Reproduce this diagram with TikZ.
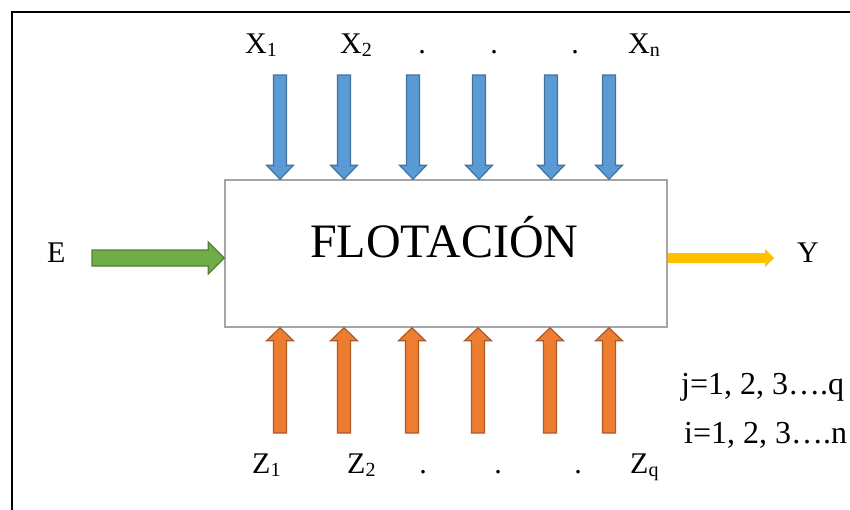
\documentclass[tikz,border=0pt]{standalone}
\usepackage{fontspec}
\setmainfont{Liberation Serif}
\usetikzlibrary{calc,positioning}
\definecolor{inBlue}{HTML}{5B9BD5}
\definecolor{inBlueDark}{HTML}{41719C}
\definecolor{inOrange}{HTML}{ED7D31}
\definecolor{inOrangeDark}{HTML}{AE5A21}
\definecolor{feedGreen}{HTML}{70AD47}
\definecolor{feedGreenDark}{HTML}{507E32}
\definecolor{outYellow}{HTML}{FFC000}
\definecolor{boxGray}{HTML}{A5A5A5}
\newcommand{\idx}[1]{\raisebox{-3pt}{\fontsize{20}{20}\selectfont #1}}

\begin{document}
\begin{tikzpicture}[x=1pt, y=-1pt,
  lab/.style={font=\fontsize{30}{36}\selectfont, inner sep=0pt},
  rangelab/.style={font=\fontsize{32}{38}\selectfont, inner sep=0pt},
  blockarrow/.style n args={3}{to path={
    ($(\tikztostart)!#1!90:(\tikztotarget)$)
    -- ($($(\tikztotarget)!#3!(\tikztostart)$)!#1!90:(\tikztotarget)$)
    -- ($($(\tikztotarget)!#3!(\tikztostart)$)!#2!90:(\tikztotarget)$)
    -- (\tikztotarget)
    -- ($($(\tikztotarget)!#3!(\tikztostart)$)!#2!-90:(\tikztotarget)$)
    -- ($($(\tikztotarget)!#3!(\tikztostart)$)!#1!-90:(\tikztotarget)$)
    -- ($(\tikztostart)!#1!-90:(\tikztotarget)$) -- cycle}},
  xarrow/.style={blockarrow={6.5pt}{13.5pt}{14pt}, fill=inBlue, draw=inBlueDark, line width=1.2pt},
  zarrow/.style={blockarrow={6.5pt}{13.5pt}{13pt}, fill=inOrange, draw=inOrangeDark, line width=1.2pt},
  earrow/.style={blockarrow={8pt}{16pt}{16pt}, fill=feedGreen, draw=feedGreenDark, line width=1.2pt},
  yarrow/.style={blockarrow={5pt}{9pt}{9pt}, fill=outYellow, draw=none},
]
  \useasboundingbox (0,0) rectangle (850,509);
  \clip (0,0) rectangle (850,509);
  \draw[line width=2pt] (12,12) rectangle (880,540);

  % process block
  \node[draw=boxGray, line width=1.6pt, fill=white, minimum width=442pt, minimum height=147pt] (flot) at (446,253.5) {};
  \node[anchor=base west, inner sep=0pt, font=\fontsize{48}{56}\selectfont] (title) at (310,257) {FLOTACIÓN};

  % controlled variables X
  \coordinate (xt1) at (280,75);
  \coordinate (xt2) at (344,75);
  \coordinate (xt3) at (413,75);
  \coordinate (xt4) at (479,75);
  \coordinate (xt5) at (551,75);
  \coordinate (xt6) at (609,75);
  \draw[xarrow] (xt1) to (xt1 |- flot.north);
  \draw[xarrow] (xt2) to (xt2 |- flot.north);
  \draw[xarrow] (xt3) to (xt3 |- flot.north);
  \draw[xarrow] (xt4) to (xt4 |- flot.north);
  \draw[xarrow] (xt5) to (xt5 |- flot.north);
  \draw[xarrow] (xt6) to (xt6 |- flot.north);

  % disturbances Z
  \coordinate (zt1) at (280,433);
  \coordinate (zt2) at (344,433);
  \coordinate (zt3) at (412,433);
  \coordinate (zt4) at (478,433);
  \coordinate (zt5) at (550,433);
  \coordinate (zt6) at (609,433);
  \draw[zarrow] (zt1) to (zt1 |- flot.south);
  \draw[zarrow] (zt2) to (zt2 |- flot.south);
  \draw[zarrow] (zt3) to (zt3 |- flot.south);
  \draw[zarrow] (zt4) to (zt4 |- flot.south);
  \draw[zarrow] (zt5) to (zt5 |- flot.south);
  \draw[zarrow] (zt6) to (zt6 |- flot.south);

  % feed and product
  \coordinate (et) at (92,258);
  \coordinate (yt) at (774,258);
  \draw[earrow] (et) to (et -| flot.west);
  \draw[yarrow] (yt -| flot.east) to (yt);

  % labels
  \node[lab, anchor=base west] (x1) at (245,53) {X\idx{1}};
  \node[lab, anchor=base west] (x2) at (340,53) {X\idx{2}};
  \node[lab, anchor=base] (xd1) at (422,53) {.};
  \node[lab, anchor=base] (xd2) at (494,53) {.};
  \node[lab, anchor=base] (xd3) at (575,53) {.};
  \node[lab, anchor=base west] (xn) at (628,53) {X\idx{n}};

  \node[lab, anchor=base west] (z1) at (252,473) {Z\idx{1}};
  \node[lab, anchor=base west] (z2) at (347,473) {Z\idx{2}};
  \node[lab, anchor=base] (zd1) at (423,473) {.};
  \node[lab, anchor=base] (zd2) at (498,473) {.};
  \node[lab, anchor=base] (zd3) at (578,473) {.};
  \node[lab, anchor=base west] (zq) at (630,473) {Z\idx{q}};

  \node[lab, anchor=base west] (e) at (47,262) {E};
  \node[lab, anchor=base west] (y) at (797,262) {Y};

  \node[rangelab, anchor=base west] (jr) at (681,394) {j=1, 2, 3….q};
  \node[rangelab, anchor=base west] (ir) at (684,443) {i=1, 2, 3….n};
\end{tikzpicture}
\end{document}
